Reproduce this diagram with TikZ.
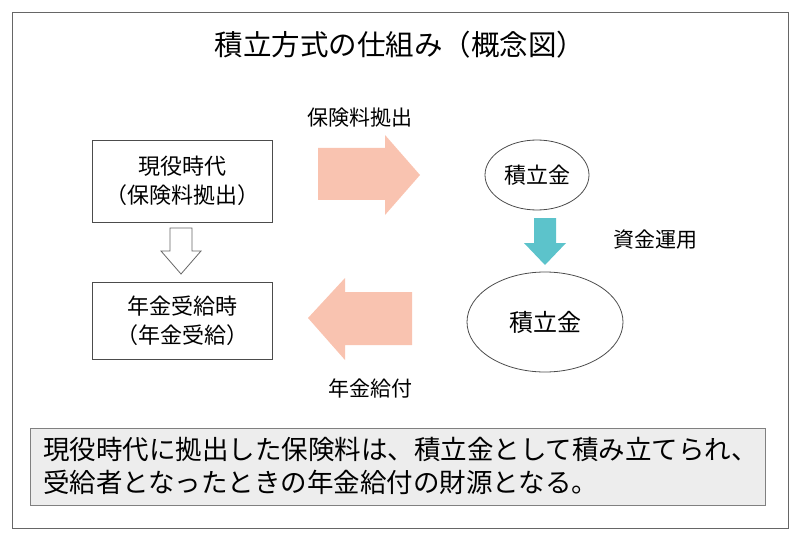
\documentclass[tikz,border=0pt]{standalone}
\usepackage{fontspec}
\setmainfont{Noto Sans CJK JP}
\definecolor{pk}{HTML}{F9C3B0}
\definecolor{tl}{HTML}{5CC3CB}
\definecolor{gb}{HTML}{EDEDED}
\begin{document}
\begin{tikzpicture}[x=1pt,y=-1pt,
  box/.style={draw=black!70,line width=0.8pt,align=center,font=\fontsize{22}{29}\selectfont,inner sep=0pt},
  lbl/.style={font=\fontsize{21}{24}\selectfont}]
\useasboundingbox (0,0) rectangle (800,540);
\draw[black!60,line width=0.8pt] (12,12) rectangle (788,528);
\node[font=\fontsize{28.5}{32}\selectfont] (title) at (400,45) {積立方式の仕組み（概念図）};
\node[lbl] (l1) at (360,118) {保険料拠出};
\node[box,minimum width=180,minimum height=82] (b1) at (182,181) {現役時代\\（保険料拠出）};
\node[box,minimum width=180,minimum height=77] (b2) at (182,321) {年金受給時\\（年金受給）};
\draw[black!70,line width=0.8pt] (537,175) circle[x radius=52,y radius=35];
\node[font=\fontsize{22}{26}\selectfont] (e1) at (537,175) {積立金};
\draw[black!70,line width=0.8pt] (545,322) circle[x radius=78,y radius=50];
\node[font=\fontsize{24}{28}\selectfont] (e2) at (545,322) {積立金};
\fill[pk] (318,148) -- (385,148) -- (385,135) -- (420,175) -- (385,215) -- (385,200) -- (318,200) -- cycle;
\fill[pk] (412,292) -- (345,292) -- (345,278) -- (308,318) -- (345,360) -- (345,345) -- (412,345) -- cycle;
\fill[tl] (534,218) -- (556,218) -- (556,243) -- (566,243) -- (545,265) -- (524,243) -- (534,243) -- cycle;
\draw[black!60,line width=0.8pt,fill=white] (170,228) -- (192,228) -- (192,251) -- (201,251) -- (181,274) -- (161,251) -- (170,251) -- cycle;
\node[lbl] (l2) at (655,240) {資金運用};
\node[lbl] (l3) at (370,388) {年金給付};
\node[draw=black!50,fill=gb,line width=0.8pt,minimum width=735,minimum height=77,anchor=north west,inner sep=0pt] (nb) at (30,428) {};
\node[anchor=west,align=left,font=\fontsize{26.5}{33}\selectfont,inner sep=0pt] (nt) at (43,466) {現役時代に拠出した保険料は、積立金として積み立てられ、\\受給者となったときの年金給付の財源となる。};
\end{tikzpicture}
\end{document}
